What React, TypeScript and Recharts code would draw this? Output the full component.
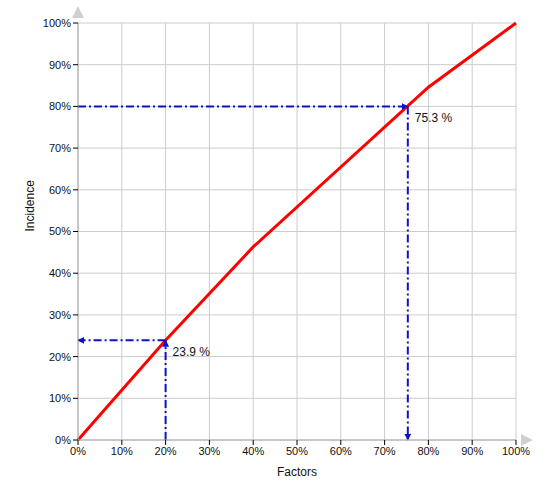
import React from 'react';
import { LineChart, Line, XAxis, YAxis, CartesianGrid, ReferenceLine } from 'recharts';

// curve points (factor %, incidence %)
const factors = [0, 20, 40, 80, 100];
const incidence = [0, 23.9, 46.3, 84.6, 100];

const ticks = [0, 10, 20, 30, 40, 50, 60, 70, 80, 90, 100];

// read-off markers
const markers = [
  { factor: 20, value: 23.9, label: '23.9 %' },
  { factor: 75.3, value: 80, label: '75.3 %' },
];

const data = factors.map((f, i) => ({ f, v: incidence[i] }));

const BLUE = '#1010cc';
const DASH = '8 3 2 3';

const arrowLine = (props: any) => {
  const { x1, y1, x2, y2 } = props;
  return (
    <line x1={x1} y1={y1} x2={x2} y2={y2} stroke={BLUE} strokeWidth={2}
      strokeDasharray={DASH} markerEnd="url(#blueArrow)" />
  );
};

export default function App() {
  return (
    <div style={{ position: 'absolute', left: 0, top: 0 }}>
      <LineChart width={550} height={500} data={data}
        margin={{ top: 23, right: 34, bottom: 20, left: 18 }}
        style={{ fontFamily: 'Liberation Sans, Arial, sans-serif' }}>
        <defs>
          <marker id="blueArrow" viewBox="0 0 10 10" refX="9" refY="5"
            markerWidth="7" markerHeight="7" markerUnits="userSpaceOnUse" orient="auto">
            <path d="M0,0 L10,5 L0,10 z" fill={BLUE} />
          </marker>
          <marker id="axisArrowX" viewBox="0 0 12 12" refX="-5" refY="6"
            markerWidth="12" markerHeight="12" markerUnits="userSpaceOnUse" orient="auto">
            <path d="M0,0 L12,6 L0,12 z" fill="#d0d0d0" />
          </marker>
          <marker id="axisArrowY" viewBox="0 0 12 12" refX="-5" refY="6"
            markerWidth="12" markerHeight="12" markerUnits="userSpaceOnUse" orient="auto-start-reverse">
            <path d="M0,0 L12,6 L0,12 z" fill="#d0d0d0" />
          </marker>
        </defs>
        <CartesianGrid stroke="#cccccc" />
        <XAxis type="number" dataKey="f" domain={[0, 100]} ticks={ticks}
          tickFormatter={(t: number) => `${t}%`} height={40}
          axisLine={{ stroke: '#aaaaaa', markerEnd: 'url(#axisArrowX)' }}
          tickLine={{ stroke: '#000' }} tickSize={5} tickMargin={2}
          tick={{ fill: '#111', fontSize: 11 }}
          label={{ value: 'Factors', position: 'insideBottom', offset: 4, fill: '#111', fontSize: 12 }} />
        <YAxis type="number" domain={[0, 100]} ticks={ticks}
          tickFormatter={(t: number) => `${t}%`} width={60}
          axisLine={{ stroke: '#aaaaaa', markerStart: 'url(#axisArrowY)' }}
          tickLine={{ stroke: '#000' }} tickSize={5} tickMargin={2}
          tick={{ fill: '#111', fontSize: 11 }}
          label={{ value: 'Incidence', angle: -90, position: 'insideLeft', offset: 12, fill: '#111', fontSize: 12 }} />
        <Line type="linear" dataKey="v" stroke="#ff0000" strokeWidth={3} dot={false}
          activeDot={false} isAnimationActive={false} />
        {markers.map((m) => (
          <ReferenceLine key={`h-${m.label}`} ifOverflow="visible"
            segment={m.factor < 50
              ? [{ x: m.factor, y: m.value }, { x: 0, y: m.value }]
              : [{ x: 0, y: m.value }, { x: m.factor, y: m.value }]}
            shape={arrowLine} />
        ))}
        {markers.map((m) => (
          <ReferenceLine key={`v-${m.label}`} ifOverflow="visible"
            segment={m.factor < 50
              ? [{ x: m.factor, y: 0 }, { x: m.factor, y: m.value }]
              : [{ x: m.factor, y: m.value }, { x: m.factor, y: 0 }]}
            shape={arrowLine}
            label={{ value: m.label, position: 'insideTopLeft', fill: '#111', fontSize: 12, offset: 7 }} />
        ))}
      </LineChart>
    </div>
  );
}
